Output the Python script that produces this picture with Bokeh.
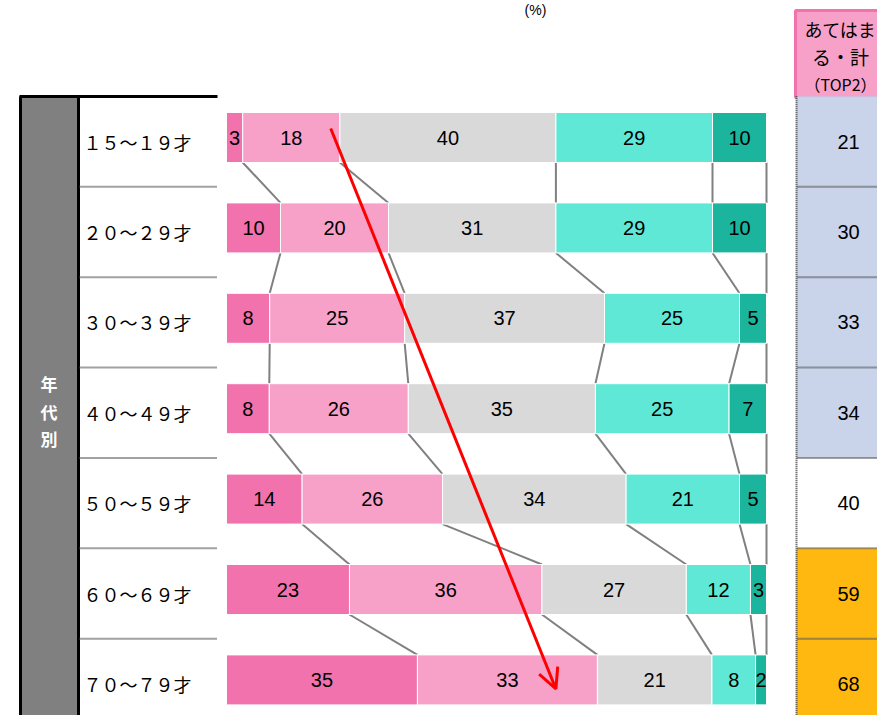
from bokeh.plotting import figure
from bokeh.models import Range1d, Arrow, OpenHead, ColumnDataSource
from bokeh.core.properties import value
from bokeh.embed import file_html
from bokeh.resources import INLINE

# ---------------- data ----------------
age_groups = ["１５～１９才", "２０～２９才", "３０～３９才", "４０～４９才",
              "５０～５９才", "６０～６９才", "７０～７９才"]
s1 = [3, 10, 8, 8, 14, 23, 35]
s2 = [18, 20, 25, 26, 26, 36, 33]
s3 = [40, 31, 37, 35, 34, 27, 21]
s4 = [29, 29, 25, 25, 21, 12, 8]
s5 = [10, 10, 5, 7, 5, 3, 2]
top2 = [21, 30, 33, 34, 40, 59, 68]
side_title = "年代別"
header_lines = ["あてはま", "る・計", "（TOP2）"]
unit_label = "(%)"

# ---------------- styles ----------------
seg_colors = ["#F172AD", "#F7A1C9", "#D9D9D9", "#60E8D6", "#1BB59D"]
top2_colors = ["#C9D3EA", "#C9D3EA", "#C9D3EA", "#C9D3EA", "#FFFFFF", "#FFB80F", "#FFB80F"]

# layout: picture pixel -> data mapping (x in %, y in row units)
X0, XS = 226.0, 5.4
Y0, YS = 137.0, 90.4
W, H = 877, 715


def dx(px):
    return (px - X0) / XS


def dy(py):
    return (py - Y0) / YS


BAR_H = 50 / YS

p = figure(width=W, height=H, output_backend="svg", toolbar_location=None,
           x_range=Range1d(dx(0), dx(W)), y_range=Range1d(dy(H), dy(0)),
           min_border=0, outline_line_color=None)
p.axis.visible = False
p.grid.visible = False
p.background_fill_color = "white"

series = [s1, s2, s3, s4, s5]
n = len(age_groups)

# cumulative positions (normalised to 100 per row)
cums = []
for i in range(n):
    vals = [s[i] for s in series]
    tot = float(sum(vals))
    c = [0.0]
    for v in vals:
        c.append(c[-1] + v / tot * 100.0)
    cums.append(c)

# ---------- unit label ----------
p.text(x=[dx(535)], y=[dy(9)], text=[unit_label], text_align="center", text_baseline="middle",
       text_font=value("Liberation Sans"), text_font_size="14px", text_color="black")

# ---------- left table ----------
p.quad(left=dx(19), right=dx(78), top=dy(96), bottom=dy(760),
       fill_color="#808080", line_color=None)
p.segment(x0=[dx(20), dx(78)], y0=[dy(96), dy(96)], x1=[dx(20), dx(78)], y1=[dy(760), dy(760)],
          line_color="black", line_width=3)
p.segment(x0=[dx(19)], y0=[dy(96)], x1=[dx(217)], y1=[dy(96)], line_color="black", line_width=3)

ys = list(range(n))
cell_top = [y - 0.455 for y in ys]
cell_bot = [y + 0.545 for y in ys]
cell_mid = [(a + b) / 2 for a, b in zip(cell_top, cell_bot)]

p.segment(x0=[dx(79)] * (n - 1), x1=[dx(217)] * (n - 1), y0=cell_bot[:-1], y1=cell_bot[:-1],
          line_color="#444444", line_width=2, line_dash="1 1")

for k, ch in enumerate(side_title):
    p.text(x=[dx(48.5)], y=[dy(383 + k * 27.5)], text=[ch], text_align="center",
           text_baseline="middle", text_color="white", text_font_style="bold",
           text_font=value("Noto Sans CJK JP"), text_font_size="17px")

p.text(x=[dx(83)] * n, y=cell_mid, text=age_groups, text_align="left", text_baseline="middle",
       text_font=value("Noto Sans CJK JP"), text_font_size="18px", text_color="black")

# ---------- connector lines ----------
cx0, cy0, cx1, cy1 = [], [], [], []
for i in range(n - 1):
    for k in range(1, 6):
        cx0.append(cums[i][k]); cy0.append(i + BAR_H / 2)
        cx1.append(cums[i + 1][k]); cy1.append(i + 1 - BAR_H / 2)
p.segment(x0=cx0, y0=cy0, x1=cx1, y1=cy1, line_color="#808080", line_width=2)

# ---------- stacked bars ----------
L, R, T, B, C, TX, TY, TT = [], [], [], [], [], [], [], []
for i in range(n):
    for k in range(5):
        L.append(cums[i][k]); R.append(cums[i][k + 1])
        T.append(i - BAR_H / 2); B.append(i + BAR_H / 2)
        C.append(seg_colors[k])
        TX.append((cums[i][k] + cums[i][k + 1]) / 2); TY.append(i)
        TT.append(str(series[k][i]))
p.quad(source=ColumnDataSource(dict(left=L, right=R, top=T, bottom=B, color=C)),
       left="left", right="right", top="top", bottom="bottom",
       fill_color="color", line_color="white", line_width=1)
p.text(x=TX, y=TY, text=TT, text_align="center", text_baseline="middle",
       text_font=value("Liberation Sans"), text_font_size="20px", text_color="black")

# ---------- right column ----------
p.quad(left=dx(795), right=dx(940), top=dy(10), bottom=dy(97),
       fill_color="#F7A1C9", line_color="#F172AD", line_width=3)
hy = [28, 56, 83]
hs = ["18px", "19px", "16px"]
for t, yy, fs in zip(header_lines, hy, hs):
    p.text(x=[dx(840)], y=[dy(yy)], text=[t], text_align="center", text_baseline="middle",
           text_font=value("Noto Sans CJK JP"), text_font_size=fs, text_color="black")

p.quad(left=[dx(796)] * n, right=[dx(940)] * n, top=cell_top, bottom=cell_bot,
       fill_color=top2_colors, line_color=None)
p.segment(x0=[dx(797)] * (n - 1), x1=[dx(940)] * (n - 1), y0=cell_bot[:-1], y1=cell_bot[:-1],
          line_color="#444444", line_width=2, line_dash="1 1")
p.segment(x0=[dx(796)], x1=[dx(796)], y0=[cell_top[0]], y1=[dy(760)],
          line_color="#444444", line_width=2, line_dash="1 1")
p.text(x=[dx(848)] * n, y=cell_mid, text=[str(v) for v in top2], text_align="center",
       text_baseline="middle", text_font=value("Liberation Sans"), text_font_size="20px",
       text_color="black")

# ---------- red arrow ----------
arrow_start = (19.3, -0.1)
arrow_end = (61.0, 6.1)
p.add_layout(Arrow(end=OpenHead(size=20, line_color="red", line_width=3),
                   x_start=arrow_start[0], y_start=arrow_start[1],
                   x_end=arrow_end[0], y_end=arrow_end[1],
                   line_color="red", line_width=3))

open("out.html", "w").write(file_html(p, INLINE))
